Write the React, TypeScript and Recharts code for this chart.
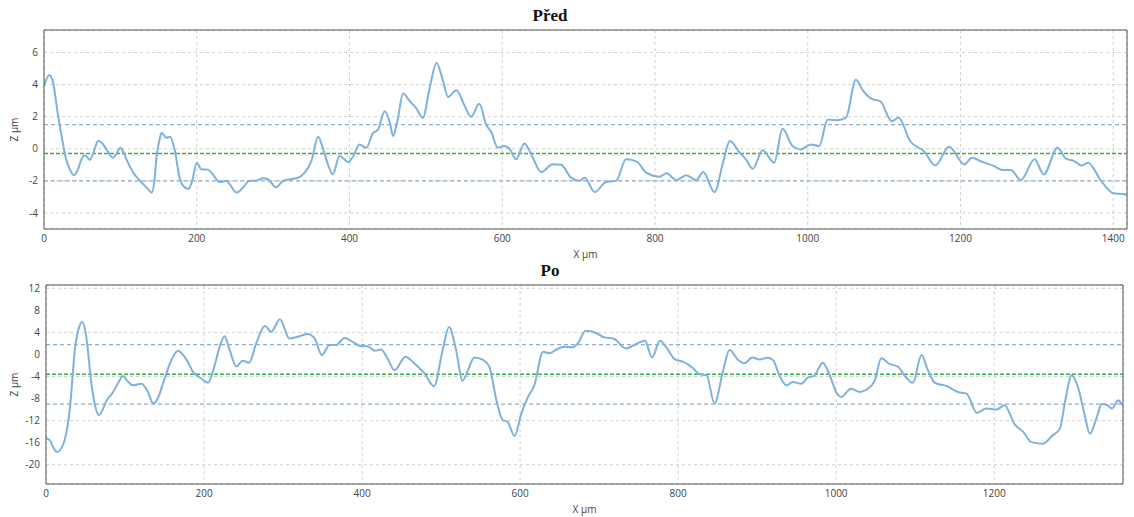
import React from "react";
import { LineChart, Line, XAxis, YAxis, CartesianGrid, ReferenceLine } from "recharts";

// Před – profile before
const predX = [
  0, 7, 12, 18, 23, 29, 34, 39, 44, 49, 53, 57, 60, 65, 71, 76, 82, 90, 95, 100, 104, 108, 117, 130, 136, 141, 145, 147, 151, 154,
  160, 165, 171, 178, 183, 189, 194, 200, 206, 215, 221, 230, 239, 243, 252, 261, 269, 276, 287, 293, 304, 313, 322, 333, 341, 350,
  359, 365, 372, 378, 387, 392, 398, 405, 413, 422, 431, 437, 446, 453, 457, 463, 470, 479, 487, 496, 505, 514, 522, 529, 540, 551,
  559, 570, 579, 586, 594, 603, 610, 618, 629, 640, 651, 666, 677, 690, 701, 708, 721, 736, 749, 762, 776, 789, 806, 815, 828, 841,
  854, 863, 878, 889, 898, 911, 919, 928, 941, 956, 967, 980, 991, 1004, 1015, 1026, 1037, 1050, 1063, 1072, 1083, 1095, 1110, 1119,
  1134, 1152, 1167, 1185, 1205, 1215, 1226, 1244, 1255, 1266, 1279, 1297, 1309, 1327, 1338, 1349, 1358, 1367, 1384, 1400, 1415, 1418,
];
const predZ = [
  3.9, 4.6, 4.1, 2.2, 0.8, -0.66, -1.3, -1.65, -1.35, -0.66, -0.4, -0.55, -0.7, -0.2, 0.5, 0.35, -0.05, -0.56, -0.3, 0.06, -0.2, -0.66,
  -1.5, -2.2, -2.5, -2.73, -1.8, -0.66, 0.5, 1.0, 0.68, 0.75, -0.04, -1.9, -2.35, -2.5, -2.0, -0.87, -1.28, -1.3, -1.6, -2.07, -2.0,
  -2.2, -2.73, -2.4, -2.0, -2.0, -1.84, -1.9, -2.4, -2.0, -1.9, -1.8, -1.5, -0.77, 0.75, 0.06, -1.0, -1.6, -0.45, -0.6, -0.83, -0.45,
  0.27, 0.06, 1.0, 1.16, 2.34, 1.6, 0.79, 1.8, 3.44, 2.96, 2.55, 1.93, 3.8, 5.34, 4.3, 3.23, 3.64, 2.65, 1.99, 2.8, 1.5, 1.0, 0.06,
  0.17, -0.04, -0.66, 0.33, -0.56, -1.45, -0.97, -1.0, -1.8, -2.0, -1.8, -2.7, -2.07, -2.0, -0.66, -0.8, -1.5, -1.74, -1.53, -1.95,
  -1.65, -1.95, -1.45, -2.7, -0.87, 0.48, -0.25, -0.66, -1.24, -0.1, -0.87, 1.24, 0.17, -0.04, 0.27, 0.17, 1.82, 1.78, 1.93, 4.3,
  3.64, 3.13, 2.96, 1.72, 1.93, 0.48, -0.15, -1.04, 0.12, -0.97, -0.56, -0.77, -1.08, -1.33, -1.33, -1.95, -0.66, -1.6, 0.06, -0.62,
  -0.77, -1.04, -0.87, -2.0, -2.77, -2.84, -2.9,
];

// Po – profile after
const poX = [
  0, 5, 9, 14, 22, 30, 37, 42, 46, 50, 58, 63, 67, 77, 85, 92, 97, 103, 110, 121, 128, 136, 142, 148, 157, 167, 178, 186, 197, 205,
  213, 220, 226, 232, 241, 249, 257, 266, 277, 285, 296, 308, 321, 331, 340, 349, 359, 367, 378, 388, 399, 407, 416, 424, 432, 441,
  455, 466, 479, 491, 502, 510, 519, 527, 534, 542, 553, 561, 570, 578, 584, 593, 601, 610, 618, 629, 637, 646, 656, 667, 673, 683,
  696, 707, 718, 734, 747, 758, 767, 777, 785, 796, 806, 819, 827, 836, 846, 857, 865, 876, 884, 894, 903, 913, 920, 928, 937, 945,
  956, 964, 972, 983, 991, 1000, 1006, 1019, 1030, 1038, 1049, 1057, 1068, 1078, 1087, 1097, 1108, 1116, 1125, 1140, 1154, 1165,
  1178, 1190, 1203, 1213, 1226, 1237, 1247, 1262, 1273, 1283, 1290, 1298, 1306, 1315, 1321, 1330, 1336, 1343, 1349, 1357, 1361, 1363,
];
const poZ = [
  -15.2, -15.6, -16.8, -17.7, -16.2, -10.1, 1.4, 5.0, 5.9, 4.1, -5.9, -9.8, -11.0, -8.3, -6.8, -5.0, -3.9, -4.8, -5.6, -5.3, -6.5,
  -8.9, -7.8, -5.3, -1.6, 0.67, -1.0, -3.15, -4.4, -5.15, -2.2, 1.5, 3.3, 1.0, -2.2, -1.15, -1.5, 2.0, 5.15, 4.1, 6.4, 2.9, 3.3, 3.7,
  2.9, -0.1, 1.7, 1.7, 3.0, 2.3, 1.5, 1.5, 0.67, 0.9, -0.7, -2.85, -0.4, -1.6, -3.45, -5.75, 0.8, 5.0, 0.8, -4.8, -2.85, -0.55, -1.0,
  -2.2, -8.3, -11.9, -12.2, -14.8, -11.0, -7.7, -5.6, 0.5, 0.2, 0.9, 1.4, 1.3, 2.0, 4.3, 3.9, 3.1, 2.9, 1.1, 1.9, 2.5, -0.55, 2.5,
  1.3, -0.9, -1.3, -2.5, -3.6, -3.75, -8.9, -2.85, 0.8, -1.0, -1.6, -0.55, -0.9, -0.6, -1.0, -3.75, -5.6, -5.0, -5.3, -4.2, -3.9,
  -1.5, -3.45, -6.8, -7.7, -6.2, -6.8, -6.4, -4.7, -0.7, -1.75, -2.2, -3.9, -5.15, -0.1, -2.85, -5.15, -5.75, -6.8, -7.1, -10.6,
  -9.8, -10.0, -9.2, -12.7, -14.1, -15.9, -16.2, -14.8, -13.5, -8.3, -3.75, -5.9, -11.3, -14.4, -11.3, -9.0, -9.2, -9.8, -8.3, -8.9,
  -9.2,
];

const predXTicks = [0, 200, 400, 600, 800, 1000, 1200, 1400];
const predYTicks = [-4, -2, 0, 2, 4, 6];
const poXTicks = [0, 200, 400, 600, 800, 1000, 1200];
const poYTicks = [-20, -16, -12, -8, -4, 0, 4, 8, 12];

// band limits and mean line
const predBand = [1.5, -2.0];
const predMean = -0.3;
const poBand = [1.8, -9.0];
const poMean = -3.6;

const steps = (from: number, to: number, step: number) => {
  const out: number[] = [];
  for (let v = from; v <= to + 1e-9; v += step) out.push(Math.round(v * 100) / 100);
  return out;
};

const AXIS = "#555";
const TICK_FONT = { fontSize: 10, fill: "#444", fontFamily: "Open Sans" };

type ProfileProps = {
  title: string;
  xs: number[];
  zs: number[];
  xMax: number;
  yDomain: [number, number];
  xTicks: number[];
  yTicks: number[];
  xMinor: number[];
  yMinor: number[];
  band: number[];
  mean: number;
  top: number;
  height: number;
  margin: { top: number; right: number; bottom: number; left: number };
  yWidth: number;
  titleTop: number;
};

function Profile(p: ProfileProps) {
  const data = p.xs.map((x, i) => ({ x, z: p.zs[i] }));
  return (
    <>
      <div
        style={{
          position: "absolute",
          left: 0,
          width: 1100,
          top: p.titleTop,
          textAlign: "center",
          fontFamily: "Liberation Serif",
          fontWeight: "bold",
          fontSize: 17,
          color: "#111",
        }}
      >
        {p.title}
      </div>
      <div style={{ position: "absolute", left: 0, top: p.top }}>
        <LineChart width={1134} height={p.height} data={data} margin={p.margin}>
          <CartesianGrid stroke="#cfcfcf" strokeDasharray="3 3" />
          <XAxis
            dataKey="x"
            type="number"
            domain={[0, p.xMax]}
            allowDataOverflow
            ticks={p.xTicks}
            tickLine={false}
            tickSize={0}
            tickMargin={6}
            height={31}
            axisLine={{ stroke: AXIS }}
            tick={TICK_FONT}
            label={{ value: "X µm", position: "insideBottom", offset: 2, style: { fontSize: 10, fill: "#444", fontFamily: "Open Sans" } }}
          />
          <XAxis
            xAxisId="bm"
            dataKey="x"
            type="number"
            domain={[0, p.xMax]}
            allowDataOverflow
            ticks={p.xMinor}
            mirror
            tick={false}
            tickSize={4}
            axisLine={false}
            tickLine={{ stroke: AXIS }}
          />
          <XAxis
            xAxisId="tm"
            orientation="top"
            dataKey="x"
            type="number"
            domain={[0, p.xMax]}
            allowDataOverflow
            ticks={p.xMinor}
            mirror
            tick={false}
            tickSize={4}
            axisLine={{ stroke: AXIS }}
            tickLine={{ stroke: AXIS }}
          />
          <YAxis
            dataKey="z"
            type="number"
            domain={p.yDomain}
            allowDataOverflow
            ticks={p.yTicks}
            tickLine={false}
            tickSize={0}
            tickMargin={6}
            width={p.yWidth}
            axisLine={{ stroke: AXIS }}
            tick={TICK_FONT}
            label={{
              value: "Z µm",
              angle: -90,
              position: "insideLeft",
              offset: 0,
              style: { fontSize: 10, fill: "#444", fontFamily: "Open Sans", textAnchor: "middle" },
            }}
          />
          <YAxis
            yAxisId="lm"
            dataKey="z"
            type="number"
            domain={p.yDomain}
            allowDataOverflow
            ticks={p.yMinor}
            mirror
            tick={false}
            tickSize={4}
            axisLine={false}
            tickLine={{ stroke: AXIS }}
          />
          <YAxis
            yAxisId="rm"
            orientation="right"
            dataKey="z"
            type="number"
            domain={p.yDomain}
            allowDataOverflow
            ticks={p.yMinor}
            mirror
            tick={false}
            tickSize={4}
            axisLine={{ stroke: AXIS }}
            tickLine={{ stroke: AXIS }}
          />
          {p.band.map((v) => (
            <ReferenceLine key={v} y={v} stroke="#8daed6" strokeDasharray="4 3" strokeWidth={1.2} />
          ))}
          <ReferenceLine y={p.mean} stroke="#3cb043" strokeDasharray="4 2" strokeWidth={1.4} />
          <Line
            type="monotone"
            dataKey="z"
            stroke="#7fb1dd"
            strokeWidth={2}
            dot={false}
            isAnimationActive={false}
          />
        </LineChart>
      </div>
    </>
  );
}

export default function App() {
  return (
    <div style={{ position: "absolute", left: 0, top: 0, width: 1134, height: 517, background: "#fff" }}>
      <Profile
        title="Před"
        xs={predX}
        zs={predZ}
        xMax={1418}
        yDomain={[-5, 7.4]}
        xTicks={predXTicks}
        yTicks={predYTicks}
        xMinor={steps(0, 1400, 50)}
        yMinor={steps(-5, 7, 0.5)}
        band={predBand}
        mean={predMean}
        top={0}
        height={261}
        margin={{ top: 30, right: 7, bottom: 1, left: 14 }}
        yWidth={30}
        titleTop={6}
      />
      <Profile
        title="Po"
        xs={poX}
        zs={poZ}
        xMax={1363}
        yDomain={[-23.5, 12.6]}
        xTicks={poXTicks}
        yTicks={poYTicks}
        xMinor={steps(0, 1350, 50)}
        yMinor={steps(-23, 12, 1)}
        band={poBand}
        mean={poMean}
        top={258}
        height={259}
        margin={{ top: 27, right: 11, bottom: 2, left: 14 }}
        yWidth={32}
        titleTop={261}
      />
    </div>
  );
}
